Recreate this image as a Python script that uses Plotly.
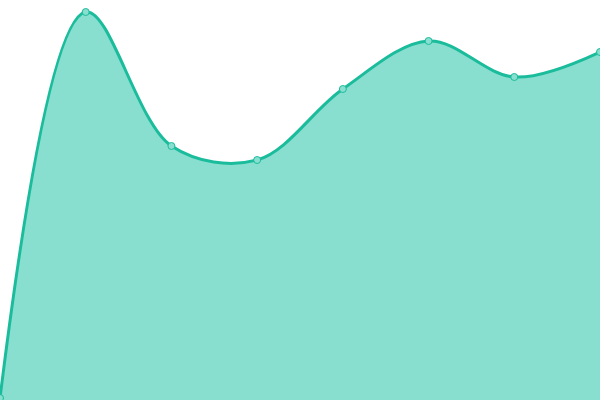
import plotly.graph_objects as go

# index of each point along the x axis
x_vals = [0, 1, 2, 3, 4, 5, 6, 7]
# series values (y axis runs 0..400)
y_vals = [2, 388, 254, 240, 311, 359, 323, 348]

line_color = "#1abc9c"
fill_color = "#88dfcf"

area = go.Scatter(
    x=x_vals,
    y=y_vals,
    mode="lines+markers",
    line=dict(color=line_color, width=3, shape="spline", smoothing=1),
    marker=dict(size=7, color=fill_color, line=dict(color=line_color, width=1)),
    fill="tozeroy",
    fillcolor=fill_color,
    hoverinfo="skip",
)

layout = go.Layout(
    width=600,
    height=400,
    margin=dict(l=0, r=0, t=0, b=0),
    paper_bgcolor="white",
    plot_bgcolor="white",
    showlegend=False,
    xaxis=dict(range=[0, 7], visible=False, fixedrange=True),
    yaxis=dict(range=[0, 400], visible=False, fixedrange=True),
)

fig = go.Figure(data=[area], layout=layout)
# drop the page's default body margin so the chart sits at the top-left corner
fig.write_html(
    "out.html",
    config={"displayModeBar": False},
    post_script="document.body.style.margin='0';document.body.style.overflow='hidden';",
)
